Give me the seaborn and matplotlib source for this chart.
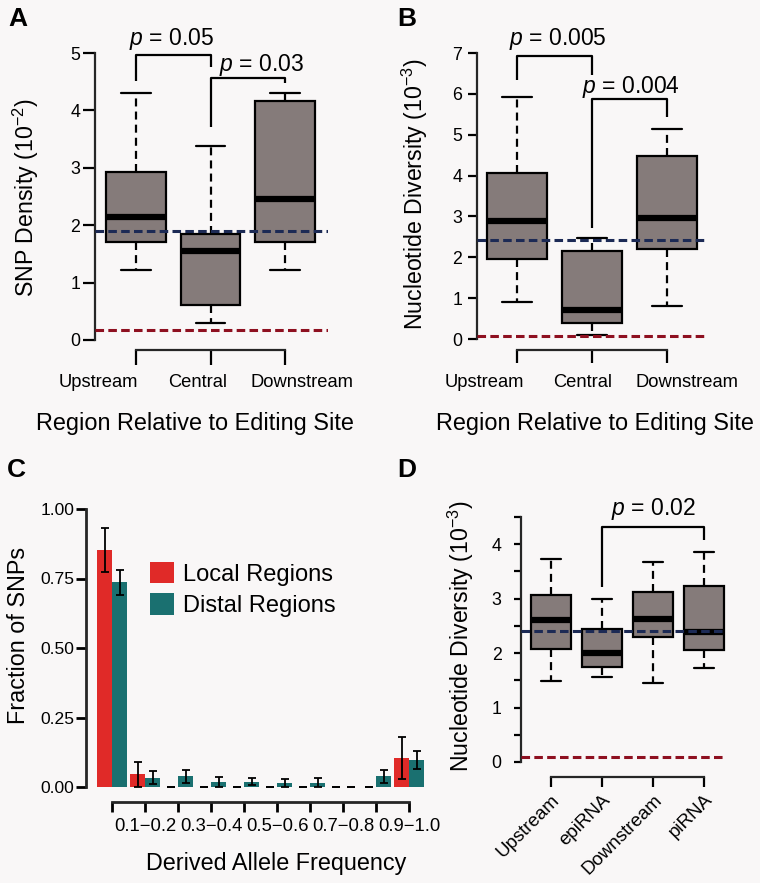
import numpy as np
import pandas as pd
import matplotlib
matplotlib.use("Agg")
import matplotlib.pyplot as plt
import seaborn as sns

# box summaries: whisker low, Q1, median, Q3, whisker high
regions = ["Upstream", "Central", "Downstream"]
snp_upstream = [1.22, 1.70, 2.15, 2.92, 4.30]
snp_central = [0.30, 0.61, 1.55, 1.85, 3.38]
snp_downstream = [1.22, 1.70, 2.46, 4.16, 4.30]
snp_genome = 1.90
snp_neutral = 0.17

div_upstream = [0.90, 1.96, 2.90, 4.06, 5.93]
div_central = [0.11, 0.40, 0.71, 2.16, 2.46]
div_downstream = [0.80, 2.20, 2.95, 4.49, 5.14]
div_genome = 2.42
div_neutral = 0.08

pi_regions = ["Upstream", "epiRNA", "Downstream", "piRNA"]
pi_upstream = [1.49, 2.08, 2.60, 3.07, 3.72]
pi_epirna = [1.56, 1.75, 2.00, 2.44, 3.00]
pi_downstream = [1.46, 2.30, 2.63, 3.12, 3.67]
pi_pirna = [1.72, 2.05, 2.39, 3.24, 3.85]
pi_genome = 2.40
pi_neutral = 0.10

# derived allele frequency spectrum
freq_bins = ["0.0\u22120.1", "0.1\u22120.2", "0.2\u22120.3", "0.3\u22120.4", "0.4\u22120.5",
             "0.5\u22120.6", "0.6\u22120.7", "0.7\u22120.8", "0.8\u22120.9", "0.9\u22121.0"]
local_frac = [0.852, 0.048, 0, 0, 0, 0, 0, 0, 0, 0.104]
local_lo = [0.774, 0.0, 0, 0, 0, 0, 0, 0, 0, 0.028]
local_hi = [0.930, 0.090, 0, 0, 0, 0, 0, 0, 0, 0.180]
distal_frac = [0.736, 0.034, 0.038, 0.018, 0.019, 0.016, 0.016, 0.0, 0.038, 0.098]
distal_lo = [0.690, 0.012, 0.016, 0.0, 0.006, 0.0, 0.0, 0.0, 0.016, 0.066]
distal_hi = [0.780, 0.056, 0.062, 0.036, 0.034, 0.028, 0.031, 0.0, 0.062, 0.128]

BG = "#f9f7f7"
BOX = "#857b7a"
NAVY = "#1c2a55"
DARKRED = "#8e1020"
RED = "#e02a28"
TEAL = "#1a7070"

sns.set_theme(style="ticks")
plt.rcParams["font.family"] = ["Liberation Sans", "DejaVu Sans"]
plt.rcParams["mathtext.fontset"] = "custom"
plt.rcParams["mathtext.rm"] = "Liberation Sans"
plt.rcParams["mathtext.it"] = "Liberation Sans:italic"
plt.rcParams["mathtext.default"] = "regular"
plt.rcParams["axes.facecolor"] = "none"
plt.rcParams["text.color"] = "black"
plt.rcParams["axes.labelcolor"] = "black"
plt.rcParams["xtick.color"] = "black"
plt.rcParams["ytick.color"] = "black"

W, H = 760, 883
fig = plt.figure(figsize=(W / 100, H / 100), dpi=100, facecolor=BG)


def px_axes(left, top, right, bottom):
    return fig.add_axes([left / W, 1 - bottom / H, (right - left) / W, (bottom - top) / H])


def box_panel(ax, cats, summaries, genome, neutral, ymax, xlim, line_end):
    df = pd.DataFrame({"region": np.repeat(cats, 5), "value": np.concatenate(summaries)})
    sns.boxplot(data=df, x="region", y="value", order=cats, ax=ax, color=BOX,
                saturation=1, width=0.8, linecolor="black", linewidth=1.6,
                whis=(0, 100), showfliers=False,
                medianprops=dict(linewidth=4.5, solid_capstyle="butt"),
                whiskerprops=dict(linestyle=(0, (3.6, 2.3))))
    ax.hlines([genome, neutral], xlim[0], line_end, colors=[NAVY, DARKRED],
              lw=2.2, linestyles=[(0, (2.8, 1.4))], zorder=5)
    ax.set_ylim(0, ymax)
    ax.set_xlim(*xlim)
    sns.despine(ax=ax)
    ax.spines["left"].set_bounds(0, ymax)
    ax.spines["bottom"].set_bounds(0, len(cats) - 1)
    for s in ["left", "bottom"]:
        ax.spines[s].set_linewidth(1.6)


def spread_labels(ax, cats, xs, y):
    # the category names sit spread apart, not centred under their ticks
    ax.set_xticklabels([])
    for name, x in zip(cats, xs):
        ax.text(x, y, name, ha="center", va="baseline", fontsize=13.2, clip_on=False)


def bracket(ax, x0, x1, y0, ytop, y1, label, tx, ty):
    ax.plot([x0, x0, x1, x1], [y0, ytop, ytop, y1], color="black", lw=1.6,
            clip_on=False, solid_capstyle="butt")
    ax.text(tx, ty, r"$\it{p}$ = " + label, ha="center", va="baseline",
            fontsize=16.5, clip_on=False)


def place_labels(ax, xlabel_xy, ylabel_xy):
    if xlabel_xy is not None:
        ax.xaxis.label.set_va("baseline")
        ax.xaxis.set_label_coords(*xlabel_xy)
    ax.yaxis.label.set_va("baseline")
    ax.yaxis.set_label_coords(*ylabel_xy)


# ---- A
axA = px_axes(95, 53, 327.5, 340)
box_panel(axA, regions, [snp_upstream, snp_central, snp_downstream],
          snp_genome, snp_neutral, 5, (-0.55, 2.57), 2.57)
axA.spines["bottom"].set_position(("outward", 7.2))
axA.tick_params(axis="x", length=10.8, width=1.6)
axA.tick_params(axis="y", length=8.5, width=1.6, pad=2, labelsize=12.8)
spread_labels(axA, regions, [-0.50, 0.83, 2.23], -0.82)
axA.set_xlabel("Region Relative to Editing Site", fontsize=16.9)
axA.set_ylabel(r"SNP Density (10$^{-2}$)", fontsize=16.7)
place_labels(axA, (0.43, -0.3136), (-0.2645, 0.495))
bracket(axA, 0, 1, 4.51, 4.97, 4.76, "0.05", 0.48, 5.14)
bracket(axA, 1, 2, 3.71, 4.56, 4.48, "0.03", 1.68, 4.69)

# ---- B
axB = px_axes(477, 53, 708, 339)
box_panel(axB, regions, [div_upstream, div_central, div_downstream],
          div_genome, div_neutral, 7, (-0.533, 2.547), 2.547)
axB.spines["bottom"].set_position(("outward", 8))
axB.tick_params(axis="x", length=9.5, width=1.6)
axB.tick_params(axis="y", length=6.5, width=1.6, pad=4, labelsize=12.8)
spread_labels(axB, regions, [-0.44, 0.88, 2.27], -1.17)
axB.set_xlabel("Region Relative to Editing Site", fontsize=16.9)
axB.set_ylabel(r"Nucleotide Diversity (10$^{-3}$)", fontsize=16.7)
place_labels(axB, (0.51, -0.318), (-0.234, 0.507))
bracket(axB, 0, 1, 6.34, 6.93, 6.46, "0.005", 0.54, 7.2)
bracket(axB, 1, 2, 2.71, 5.87, 5.44, "0.004", 1.52, 6.02)

# ---- D
axD = px_axes(521, 517, 727, 762)
box_panel(axD, pi_regions, [pi_upstream, pi_epirna, pi_downstream, pi_pirna],
          pi_genome, pi_neutral, 4.5, (-0.59, 3.45), 3.37)
axD.spines["bottom"].set_position(("outward", 10.8))
yt = np.arange(0, 4.51, 0.5)
axD.set_yticks(yt)
axD.set_yticklabels([str(int(v)) if v == int(v) else "" for v in yt])
axD.tick_params(axis="x", length=7.2, width=1.6, pad=3, labelsize=13.5)
axD.tick_params(axis="y", length=5, width=1.6, pad=9, labelsize=12.8)
plt.setp(axD.get_xticklabels(), rotation=45, ha="right", rotation_mode="anchor")
axD.set_xlabel("")
axD.set_ylabel(r"Nucleotide Diversity (10$^{-3}$)", fontsize=16.7)
place_labels(axD, None, (-0.252, 0.512))
bracket(axD, 1, 3, 3.21, 4.31, 4.07, "0.02", 2.01, 4.54)

# ---- C
axC = px_axes(86, 509, 425, 787)
groups = ["Local Regions", "Distal Regions"]
dfC = pd.DataFrame({
    "freq": freq_bins * 2,
    "group": [groups[0]] * len(freq_bins) + [groups[1]] * len(freq_bins),
    "fraction": local_frac + distal_frac,
})
sns.barplot(data=dfC, x="freq", y="fraction", hue="group", order=freq_bins,
            hue_order=groups, palette=[RED, TEAL], saturation=1, width=0.9,
            errorbar=None, linewidth=0, ax=axC)
for cont, vals, lo, hi in zip(axC.containers, [local_frac, distal_frac],
                              [local_lo, distal_lo], [local_hi, distal_hi]):
    xs = [p.get_x() + p.get_width() / 2 for p in cont.patches]
    yerr = [np.subtract(vals, lo), np.subtract(hi, vals)]
    axC.errorbar(xs, vals, yerr=yerr, fmt="none", ecolor="black",
                 elinewidth=1.3, capsize=2.6, capthick=1.3, zorder=4)
axC.set_ylim(0, 1)
axC.set_xlim(-0.79, 9.48)
sns.despine(ax=axC)
axC.spines["left"].set_bounds(0, 1)
axC.spines["bottom"].set_bounds(0, 9)
axC.spines["bottom"].set_position(("outward", 10.8))
for s in ["left", "bottom"]:
    axC.spines[s].set_linewidth(2)
axC.set_yticks([0, 0.25, 0.5, 0.75, 1.0])
axC.set_yticklabels(["0.00", "0.25", "0.50", "0.75", "1.00"])
axC.set_xticks(range(len(freq_bins)))
axC.set_xticklabels([b if i % 2 == 1 else "" for i, b in enumerate(freq_bins)])
axC.tick_params(axis="x", length=7.2, width=2, pad=4, labelsize=13.3)
axC.tick_params(axis="y", length=7, width=2, pad=1.5, labelsize=12.6)
axC.set_xlabel("Derived Allele Frequency", fontsize=16.8)
axC.set_ylabel("Fraction of SNPs", fontsize=16.8)
place_labels(axC, (0.56, -0.2986), (-0.18, 0.545))
handles, labels = axC.get_legend_handles_labels()
axC.legend(handles, labels, loc="upper left",
           bbox_to_anchor=(150 / W, 1 - 562 / H), bbox_transform=fig.transFigure,
           frameon=False, fontsize=17, handlelength=1.0, handleheight=1.0,
           handletextpad=0.38, labelspacing=0.33, borderpad=0, borderaxespad=0)

# panel letters
for letter, x, y in [("A", 8, 26), ("B", 397, 26), ("C", 7, 477), ("D", 397, 477)]:
    fig.text(x / W, 1 - y / H, letter, fontsize=19, fontweight="bold",
             ha="left", va="baseline")

fig.savefig("out.png", dpi=100, facecolor=fig.get_facecolor())
